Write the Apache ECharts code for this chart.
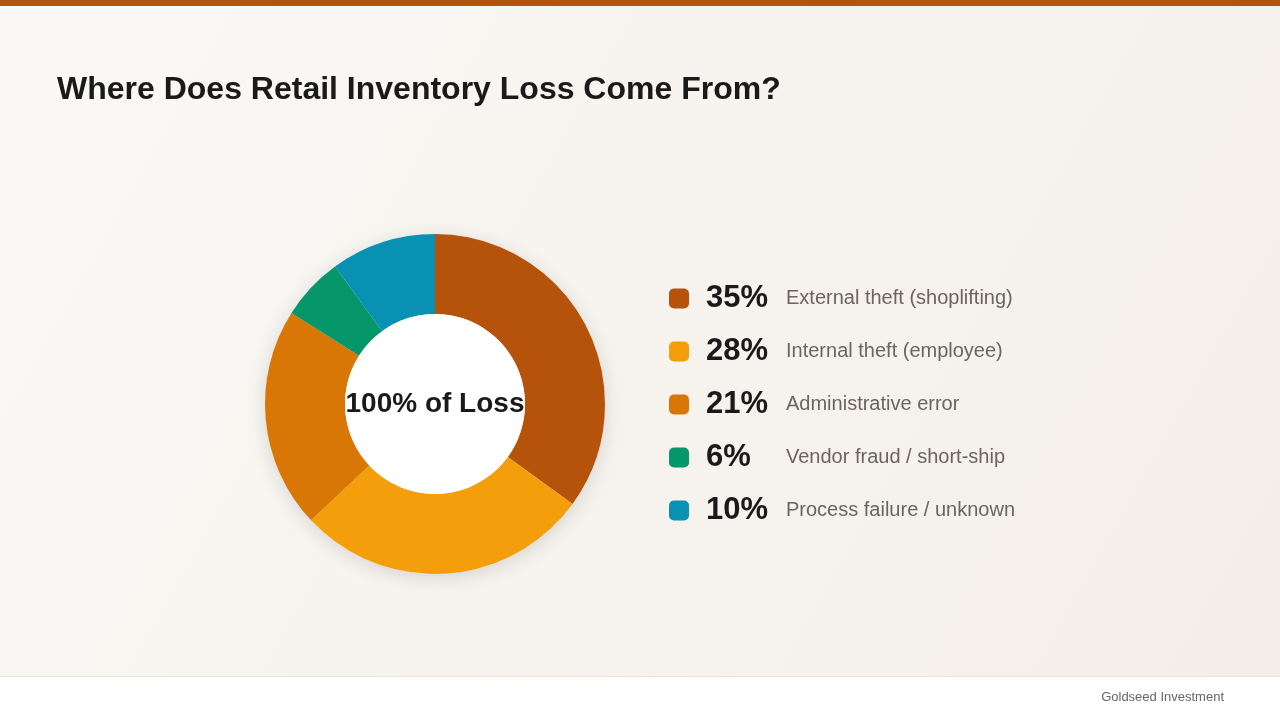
<!DOCTYPE html>
<html>
<head>
<meta charset="utf-8">
<script src="https://cdn.jsdelivr.net/npm/echarts@6/dist/echarts.min.js"></script>
<style>
  html, body { margin: 0; padding: 0; width: 1280px; height: 720px; overflow: hidden; }
  #chart { width: 1280px; height: 720px; }
</style>
</head>
<body>
<div id="chart"></div>
<script>
const categories = ['External theft (shoplifting)', 'Internal theft (employee)', 'Administrative error', 'Vendor fraud / short-ship', 'Process failure / unknown'];
const shares = [35, 28, 21, 6, 10];
const sliceColors = ['#B5530A', '#F59E0B', '#D97706', '#059669', '#0891B2'];
const titleText = 'Where Does Retail Inventory Loss Come From?';
const centerText = '100% of Loss';
const footerText = 'Goldseed Investment';

const FONT = '"Liberation Sans", Arial, Helvetica, sans-serif';
const chart = echarts.init(document.getElementById('chart'), null, { renderer: 'canvas' });

const pieData = categories.map((c, i) => ({ name: c, value: shares[i], itemStyle: { color: sliceColors[i] } }));

chart.setOption({
  backgroundColor: {
    type: 'linear', x: 0, y: 0, x2: 1, y2: 1,
    colorStops: [{ offset: 0, color: '#FAF9F6' }, { offset: 1, color: '#F3EEE7' }]
  },
  animation: false,
  graphic: [
    { type: 'rect', left: 0, top: 0, shape: { width: 1280, height: 6 }, style: { fill: '#B5530A' } },
    { type: 'rect', left: 0, top: 676, shape: { width: 1280, height: 1 }, style: { fill: '#E9E4DE' } },
    { type: 'rect', left: 0, top: 677, shape: { width: 1280, height: 43 }, style: { fill: '#FFFFFF' } },
    { type: 'text', right: 56, top: 691, style: { text: footerText, font: '13px ' + FONT, fill: '#666666' } }
  ],
  title: {
    text: titleText,
    left: 57, top: 74, padding: 0,
    textStyle: { fontFamily: FONT, fontSize: 32, fontWeight: 'bold', color: '#1A1A1A' }
  },
  legend: {
    orient: 'vertical',
    left: 669, top: 283, padding: 0,
    itemWidth: 20, itemHeight: 20, itemGap: 22,
    icon: 'roundRect',
    selectedMode: false,
    data: categories,
    formatter: function (name) {
      const i = categories.indexOf(name);
      return '{pct|' + shares[i] + '%}{lbl|' + name + '}';
    },
    textStyle: {
      fontFamily: FONT,
      padding: [0, 0, 0, 12],
      rich: {
        pct: { fontFamily: FONT, fontSize: 31, fontWeight: 'bold', color: '#1A1A1A', width: 80, lineHeight: 33 },
        lbl: { fontFamily: FONT, fontSize: 20, color: '#6B6560', lineHeight: 33 }
      }
    }
  },
  series: [
    {
      type: 'pie',
      center: [435, 404],
      radius: [0, 170],
      silent: true,
      label: { show: false },
      labelLine: { show: false },
      itemStyle: { color: '#F6F3EE', shadowBlur: 20, shadowColor: 'rgba(0,0,0,0.13)', shadowOffsetY: 4 },
      data: [{ name: 'shadow', value: 1 }]
    },
    {
      type: 'pie',
      center: [435, 404],
      radius: [90, 170],
      startAngle: 90,
      clockwise: true,
      silent: true,
      label: { show: false },
      labelLine: { show: false },
      data: pieData
    },
    {
      type: 'pie',
      center: [435, 404],
      radius: [0, 90],
      silent: true,
      labelLine: { show: false },
      label: {
        show: true, position: 'center',
        formatter: centerText,
        fontFamily: FONT, fontSize: 28, fontWeight: 'bold', color: '#1A1A1A'
      },
      itemStyle: { color: '#FFFFFF' },
      data: [{ name: 'center', value: 1 }]
    }
  ]
});
</script>
</body>
</html>
